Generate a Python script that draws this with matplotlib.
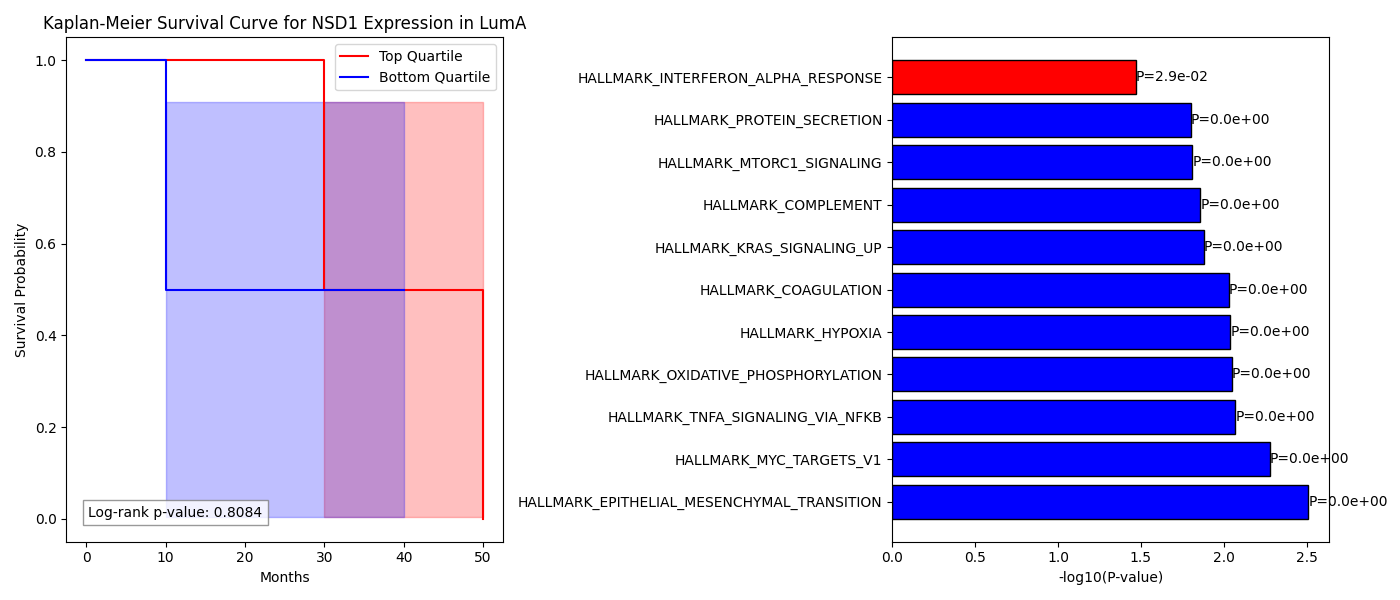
import matplotlib.pyplot as plt
import numpy as np

# KM step data
top_t = [0, 30, 50]
top_s = [1.0, 0.5, 0.0]
top_ci_t = [30, 50]
top_ci_lo = [0.005, 0.005]
top_ci_hi = [0.91, 0.91]

bot_t = [0, 10, 40]
bot_s = [1.0, 0.5, 0.5]
bot_ci_t = [10, 40]
bot_ci_lo = [0.005, 0.005]
bot_ci_hi = [0.91, 0.91]

logrank_p = 0.8084

pathways = [
    "HALLMARK_INTERFERON_ALPHA_RESPONSE",
    "HALLMARK_PROTEIN_SECRETION",
    "HALLMARK_MTORC1_SIGNALING",
    "HALLMARK_COMPLEMENT",
    "HALLMARK_KRAS_SIGNALING_UP",
    "HALLMARK_COAGULATION",
    "HALLMARK_HYPOXIA",
    "HALLMARK_OXIDATIVE_PHOSPHORYLATION",
    "HALLMARK_TNFA_SIGNALING_VIA_NFKB",
    "HALLMARK_MYC_TARGETS_V1",
    "HALLMARK_EPITHELIAL_MESENCHYMAL_TRANSITION",
]
neglogp = [1.47, 1.80, 1.81, 1.86, 1.88, 2.03, 2.04, 2.05, 2.07, 2.28, 2.51]
pvals = [2.9e-02] + [0.0] * 10

fig, (ax1, ax2) = plt.subplots(1, 2, figsize=(14, 6))

ax1.step(top_t, top_s, where='post', color='red', label='Top Quartile')
ax1.fill_between(top_ci_t, top_ci_lo, top_ci_hi, step='post', color='red', alpha=0.25)
ax1.step(bot_t, bot_s, where='post', color='blue', label='Bottom Quartile')
ax1.fill_between(bot_ci_t, bot_ci_lo, bot_ci_hi, step='post', color='blue', alpha=0.25)
ax1.set_title("Kaplan-Meier Survival Curve for NSD1 Expression in LumA")
ax1.set_xlabel("Months")
ax1.set_ylabel("Survival Probability")
ax1.legend(loc='upper right')
ax1.text(0.05, 0.05, f"Log-rank p-value: {logrank_p:.4f}", transform=ax1.transAxes,
         bbox=dict(facecolor='white', edgecolor='gray', alpha=0.8))

colors = ['red' if p < 0.05 and p > 0 else 'blue' for p in pvals]
y = np.arange(len(pathways))
ax2.barh(y, neglogp, color=colors, edgecolor='black')
ax2.set_yticks(y)
ax2.set_yticklabels(pathways)
ax2.invert_yaxis()
ax2.set_xlabel("-log10(P-value)")
for yi, v, p in zip(y, neglogp, pvals):
    ax2.text(v, yi, f"P={p:.1e}", va='center', ha='left')

plt.tight_layout()
plt.savefig("out.png", dpi=100)
